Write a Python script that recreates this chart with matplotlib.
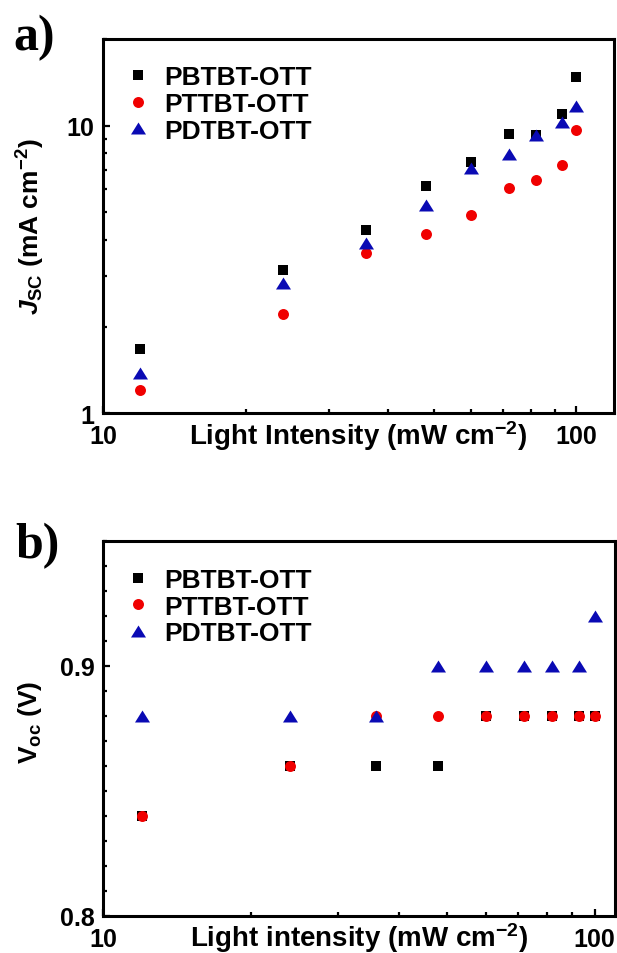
import numpy as np
import matplotlib
matplotlib.use('Agg')
import matplotlib.pyplot as plt
from matplotlib.ticker import NullFormatter, FuncFormatter, MultipleLocator

# light intensities (mW cm-2), same for both panels
intensity = [12, 24, 36, 48, 60, 72, 82, 93, 100]

# a) short-circuit current density (mA cm-2)
jsc_pbtbt = [1.67, 3.15, 4.35, 6.15, 7.48, 9.38, 9.31, 11.0, 14.8]
jsc_pttbt = [1.20, 2.21, 3.59, 4.20, 4.90, 6.07, 6.47, 7.27, 9.64]
jsc_pdtbt = [1.38, 2.84, 3.90, 5.28, 7.11, 7.95, 9.31, 10.3, 11.7]

# b) open-circuit voltage (V)
voc_pbtbt = [0.84, 0.86, 0.86, 0.86, 0.88, 0.88, 0.88, 0.88, 0.88]
voc_pttbt = [0.84, 0.86, 0.88, 0.88, 0.88, 0.88, 0.88, 0.88, 0.88]
voc_pdtbt = [0.88, 0.88, 0.88, 0.90, 0.90, 0.90, 0.90, 0.90, 0.92]

labels = ['PBTBT-OTT', 'PTTBT-OTT', 'PDTBT-OTT']
colors = ['#000000', '#f00000', '#0a0ab4']

plt.rcParams['font.family'] = ['Liberation Sans', 'DejaVu Sans']
plt.rcParams['font.weight'] = 'bold'
plt.rcParams['mathtext.fontset'] = 'custom'
plt.rcParams['mathtext.rm'] = 'Liberation Sans:bold'
plt.rcParams['mathtext.bf'] = 'Liberation Sans:bold'
plt.rcParams['mathtext.it'] = 'Liberation Sans:italic:bold'
plt.rcParams['mathtext.sf'] = 'Liberation Sans'

# flat triangle marker (wider than tall)
tri = [(-1, -0.8), (1, -0.8), (0, 0.8), (-1, -0.8)]
markers = [('s', 7.7), ('o', 7.9), (tri, 10.8)]

fig = plt.figure(figsize=(6.17, 9.54), dpi=100)
ax1 = fig.add_axes([0.1669, 0.5660, 0.8282, 0.3920])
ax2 = fig.add_axes([0.1669, 0.0388, 0.8298, 0.3931])


def style_axis(ax):
    for s in ax.spines.values():
        s.set_linewidth(2.2)
    ax.tick_params(which='both', direction='in', top=False, right=False,
                   width=1.6, labelsize=18)
    ax.tick_params(axis='x', which='both', pad=8)
    ax.tick_params(axis='y', which='both', pad=6)
    ax.tick_params(which='major', length=5)
    ax.tick_params(which='minor', length=3)
    for t in ax.get_xticklabels() + ax.get_yticklabels():
        t.set_fontweight('bold')


plain = FuncFormatter(lambda v, p: '%g' % v)
leg_kw = dict(loc='upper left', frameon=False, handlelength=1.0, handletextpad=0.5,
              labelspacing=0.1, borderpad=0, borderaxespad=0,
              prop={'weight': 'bold', 'size': 19})

# ---- panel a
for y, lab, c, (m, ms) in zip([jsc_pbtbt, jsc_pttbt, jsc_pdtbt], labels, colors, markers):
    ax1.plot(intensity, y, ls='none', marker=m, ms=ms, color=c, mec=c, mew=0, label=lab)
ax1.set_xscale('log')
ax1.set_yscale('log')
ax1.set_xlim(10, 120)
ax1.set_ylim(1, 20)
ax1.xaxis.set_major_formatter(plain)
ax1.yaxis.set_major_formatter(plain)
ax1.xaxis.set_minor_formatter(NullFormatter())
ax1.yaxis.set_minor_formatter(NullFormatter())
style_axis(ax1)
ax1.set_xlabel('Light Intensity (mW cm$^{-2}$)', fontsize=20, fontweight='bold', va='baseline')
ax1.xaxis.set_label_coords(0.5, -0.083)
ax1.set_ylabel('$J_{\\mathsf{SC}}$ (mA cm$^{-2}$)', fontsize=19, fontweight='bold')
ax1.yaxis.set_label_coords(-0.11, 0.5)
ax1.legend(bbox_to_anchor=(0.043, 0.93), **leg_kw)

# ---- panel b
for y, lab, c, (m, ms) in zip([voc_pbtbt, voc_pttbt, voc_pdtbt], labels, colors, markers):
    ax2.plot(intensity, y, ls='none', marker=m, ms=ms, color=c, mec=c, mew=0, label=lab)
ax2.set_xscale('log')
ax2.set_xlim(10, 110)
ax2.set_ylim(0.8, 0.95)
ax2.xaxis.set_major_formatter(plain)
ax2.xaxis.set_minor_formatter(NullFormatter())
ax2.yaxis.set_major_locator(MultipleLocator(0.1))
ax2.yaxis.set_minor_locator(MultipleLocator(0.01))
ax2.yaxis.set_major_formatter(FuncFormatter(lambda v, p: '%.1f' % v))
style_axis(ax2)
ax2.set_xlabel('Light intensity (mW cm$^{-2}$)', fontsize=20, fontweight='bold', va='baseline')
ax2.xaxis.set_label_coords(0.5, -0.08)
ax2.set_ylabel('$\\mathbf{V}_{\\mathsf{oc}}$ (V)', fontsize=19, fontweight='bold')
ax2.yaxis.set_label_coords(-0.115, 0.52)
ax2.legend(bbox_to_anchor=(0.043, 0.928), **leg_kw)

fig.text(13 / 617, 1 - 50 / 954, 'a)', family='Liberation Serif', fontweight='bold',
         fontsize=36, va='baseline', ha='left')
fig.text(15 / 617, 1 - 558 / 954, 'b)', family='Liberation Serif', fontweight='bold',
         fontsize=36, va='baseline', ha='left')

fig.savefig('out.png', dpi=100)
